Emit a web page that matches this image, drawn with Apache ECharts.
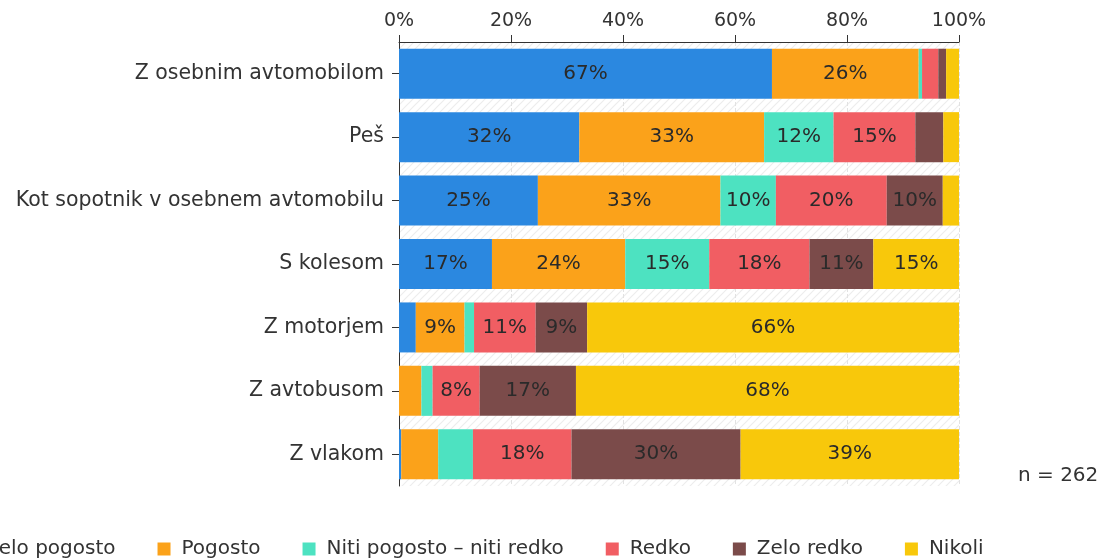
<!DOCTYPE html>
<html>
<head>
<meta charset="utf-8">
<script src="https://cdn.jsdelivr.net/npm/echarts@6/dist/echarts.min.js"></script>
<style>
html,body{margin:0;padding:0;background:#fff;}
#chart{width:1108px;height:559px;}
</style>
</head>
<body>
<div id="chart"></div>
<script>
const categories = ['Z osebnim avtomobilom', 'Peš', 'Kot sopotnik v osebnem avtomobilu', 'S kolesom', 'Z motorjem', 'Z avtobusom', 'Z vlakom'];
const seriesNames = ['Zelo pogosto', 'Pogosto', 'Niti pogosto – niti redko', 'Redko', 'Zelo redko', 'Nikoli'];
const zeloPogosto = [66.6, 32.2, 24.8, 16.6, 3.0, 0.0, 0.4];
const pogosto     = [26.2, 33.0, 32.6, 23.8, 8.7, 4.0, 6.6];
const nitiNiti    = [0.6, 12.4, 9.9, 15.0, 1.7, 2.0, 6.2];
const redko       = [2.9, 14.6, 19.8, 17.9, 11.0, 8.4, 17.6];
const zeloRedko   = [1.4, 5.0, 10.0, 11.4, 9.2, 17.2, 30.2];
const nikoli      = [2.3, 2.8, 2.9, 15.3, 66.4, 68.4, 39.0];
const xTicks = [0, 20, 40, 60, 80, 100];
const sampleNote = 'n = 262';

const colors = ['#2b88e0', '#fba21a', '#4de2c1', '#f15e63', '#7b4b4a', '#f8c80b'];
const values = [zeloPogosto, pogosto, nitiNiti, redko, zeloRedko, nikoli];

// faint hatched plot background
const pc = document.createElement('canvas');
pc.width = 8; pc.height = 8;
const pctx = pc.getContext('2d');
pctx.fillStyle = '#ffffff'; pctx.fillRect(0,0,8,8);
pctx.strokeStyle = '#ededed'; pctx.lineWidth = 1.2;
pctx.beginPath(); pctx.moveTo(0,8); pctx.lineTo(8,0); pctx.moveTo(-2,2); pctx.lineTo(2,-2); pctx.moveTo(6,10); pctx.lineTo(10,6); pctx.stroke();

const FONT = 'DejaVu Sans';
const chart = echarts.init(document.getElementById('chart'), null, {renderer: 'canvas'});
chart.setOption({
  animation: false,
  textStyle: {fontFamily: FONT},
  grid: {left: 399, right: 149, top: 42, height: 444, show: true, borderWidth: 0,
         backgroundColor: {image: pc, repeat: 'repeat'}},
  legend: {
    left: -44, top: 534, itemWidth: 13, itemHeight: 13, itemGap: 42, icon: 'rect',
    data: seriesNames,
    textStyle: {fontFamily: FONT, fontSize: 20, color: '#333', padding: [0, 0, 0, 6]}
  },
  xAxis: {
    type: 'value', position: 'top', min: 0, max: 100, interval: 20,
    axisLine: {show: true, lineStyle: {color: '#333', width: 1}},
    axisTick: {show: true, length: 7, lineStyle: {color: '#333'}},
    axisLabel: {formatter: v => xTicks.includes(v) ? v + '%' : '', fontSize: 19, color: '#333', margin: 11, fontFamily: FONT},
    splitLine: {show: true, lineStyle: {color: '#e2e2e2', type: 'dashed'}}
  },
  yAxis: {
    type: 'category', data: categories, inverse: true,
    axisLine: {show: true, lineStyle: {color: '#333'}},
    axisTick: {show: true, alignWithLabel: true, length: 7, lineStyle: {color: '#333'}},
    axisLabel: {fontSize: 20.5, color: '#333', margin: 15, fontFamily: FONT}
  },
  series: seriesNames.map((name, i) => ({
    name, type: 'bar', stack: 'total', barWidth: 50,
    itemStyle: {color: colors[i]},
    label: {
      show: true, position: 'inside', fontSize: 20, color: '#2a2a2a', fontFamily: FONT,
      formatter: p => p.value >= 7.5 ? Math.round(p.value) + '%' : ''
    },
    data: values[i]
  })),
  graphic: [{
    type: 'text', left: 1018, top: 466,
    style: {text: sampleNote, fontSize: 20, fill: '#333', fontFamily: FONT}
  }]
});
</script>
</body>
</html>
